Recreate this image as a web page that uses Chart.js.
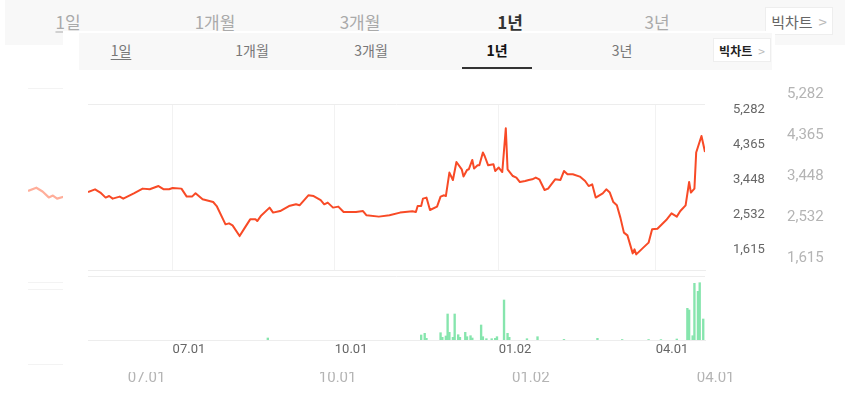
<!DOCTYPE html>
<html>
<head>
<meta charset="utf-8">
<script src="https://cdn.jsdelivr.net/npm/chart.js@4.4.1/dist/chart.umd.min.js"></script>
<style>
html, body { margin: 0; padding: 0; width: 850px; height: 407px; overflow: hidden; background: #fff; }
body { font-family: "Noto Sans CJK KR", "Noto Sans", sans-serif; }
.layer { position: absolute; left: 0; top: 0; width: 850px; height: 407px; }
.layer canvas { position: absolute; left: 0; top: 0; }
.box { position: absolute; }
.tab { position: absolute; transform: translate(-50%, -50%); white-space: nowrap; line-height: 1; }
.big { position: absolute; background: #fff; border: 1px solid #eee; box-sizing: border-box;
       display: flex; align-items: center; justify-content: center; white-space: nowrap; }
.big span { margin-left: 6px; color: #bbb; font-weight: 400; }
</style>
</head>
<body>
<div id="back" class="layer"></div>
<div class="box" style="left:63px;top:31px;width:712px;height:341px;background:#fff"></div>
<div id="front" class="layer"></div>

<script>
// period tabs
const tabLabels = ['1일', '1개월', '3개월', '1년', '3년'];
const bigChartLabel = '빅차트';
const activeTab = 3;

// price line: day index (0 = first day of the period) and closing price
const priceDays = [0, 4, 7, 10, 12, 14, 18, 20, 26, 31, 35, 40, 43, 46, 48, 53, 56, 59, 61, 65,
  71, 73, 78, 80, 82, 86, 89, 92, 95, 96, 98, 103, 105, 109, 114, 118, 120, 125, 128, 132,
  134, 136, 139, 142, 145, 152, 156, 158, 165, 171, 177, 184, 186, 187, 189, 190, 192, 194, 198, 200,
  202, 203, 205, 207, 209, 212, 213, 215, 216, 218, 219, 221, 222, 224, 225, 227, 230, 231, 233, 235,
  237, 238, 241, 243, 245, 248, 250, 252, 254, 256, 259, 261, 265, 268, 270, 272, 275, 279, 282, 284,
  286, 288, 292, 294, 296, 298, 300, 302, 304, 306, 309, 310, 311, 315, 318, 320, 323, 328, 331, 334,
  336, 339, 341, 342, 344, 345, 348, 350];
const prices = [3116, 3187, 3101, 2970, 3011, 2943, 2996, 2943, 3082, 3205, 3187, 3273, 3187, 3187, 3221, 3205, 2996, 2996, 3082, 2925,
  2854, 2749, 2270, 2296, 2244, 1963, 2184, 2401, 2401, 2356, 2487, 2708, 2577, 2618, 2749, 2794, 2768, 3030, 3011, 2907,
  2794, 2839, 2708, 2734, 2592, 2592, 2618, 2506, 2472, 2506, 2577, 2611, 2592, 2749, 2749, 2943, 2970, 2645, 2734, 2996,
  3030, 3011, 3625, 3431, 3902, 3711, 3520, 3693, 3711, 3955, 3729, 3816, 3816, 4149, 4059, 3816, 3842, 3666, 3756, 3640,
  4785, 3711, 3535, 3494, 3378, 3404, 3431, 3449, 3494, 3449, 3169, 3205, 3449, 3431, 3666, 3580, 3580, 3520, 3404, 3273,
  3318, 2970, 3082, 3187, 3101, 2854, 2768, 2446, 2053, 1982, 1510, 1615, 1484, 1660, 1791, 2139, 2157, 2383, 2558, 2472,
  2618, 2768, 3378, 3101, 3205, 4149, 4583, 4164];

// trading volume (thousand shares)
const volumeDays = [102, 189, 191, 192, 200, 201, 203, 204, 205, 207, 208, 210, 211, 214, 215, 217, 218, 223, 224, 226,
  229, 231, 232, 236, 238, 239, 249, 255, 270, 289, 303, 318, 325, 334, 340, 341, 343, 344, 346, 347, 349];
const volumes = [200, 500, 670, 170, 730, 270, 400, 2600, 770, 270, 2600, 530, 270, 770, 330, 430, 200, 1500, 330, 130,
  130, 170, 330, 4000, 670, 270, 130, 330, 60, 170, 50, 50, 40, 100, 3170, 3000, 430, 5670, 4870, 5730, 2100];

// axis ticks
const priceTicks = [1615, 2532, 3448, 4365, 5282];
const dateTickDays = [48, 140, 233, 322];
const dateTickLabels = ['07.01', '10.01', '01.02', '04.01'];

const lastDay = 350;
const priceMin = 1075, priceMax = 5420;
const volumeMax = 6400;

// two copies of the widget: a wide faded one behind, a normal one in front
const layouts = {
  back: {
    strip: [5, 0, 840, 45], tabX: [68, 215, 360, 510, 657], tabY: 21, tabSize: 17,
    tabColor: '#aaa', activeColor: '#333', underline: null,
    big: [765, 7, 68, 28], bigSize: 15, bigColor: '#666', bigWeight: 400,
    left: 28, right: 755, priceTop: 88, priceBottom: 282, volTop: 289, volBottom: 364,
    axisW: 90, labelPad: 32, fs: 15, xPad: 5, xAxisH: 24,
    text: '#b4b4b4', grid: '#f6f6f6', frame: '#f3f3f3',
    line: '#ffae9a', lineW: 2.2, bar: '#c9f3d9', barW: 2
  },
  front: {
    strip: [79, 33, 693, 37], tabX: [121, 252, 371, 497, 622], tabY: 50, tabSize: 14,
    tabColor: '#777', activeColor: '#111', underline: [462, 67, 70, 2],
    big: [713, 38, 58, 24], bigSize: 12, bigColor: '#222', bigWeight: 700,
    left: 88, right: 705, priceTop: 104, priceBottom: 270, volTop: 276, volBottom: 340,
    axisW: 70, labelPad: 28, fs: 13, xPad: 2, xAxisH: 20,
    text: '#666', grid: '#f2f2f2', frame: '#ededed',
    line: '#f84a26', lineW: 2, bar: '#86e5ad', barW: 1.7
  }
};

function addDiv(parent, css, text) {
  const d = document.createElement('div');
  d.style.cssText = css;
  if (text !== undefined) d.textContent = text;
  parent.appendChild(d);
  return d;
}

function buildTabs(layer, L) {
  const [sx, sy, sw, sh] = L.strip;
  addDiv(layer, `position:absolute;left:${sx}px;top:${sy}px;width:${sw}px;height:${sh}px;background:#f8f8f8`);
  tabLabels.forEach((t, i) => {
    const on = i === activeTab;
    const el = addDiv(layer, `left:${L.tabX[i]}px;top:${L.tabY}px;font-size:${L.tabSize}px;` +
      `color:${on ? L.activeColor : L.tabColor};font-weight:${on ? 700 : 400};` +
      (i === 0 ? 'text-decoration:underline;text-underline-offset:3px;' : ''), t);
    el.className = 'tab';
  });
  if (L.underline) {
    const [ux, uy, uw, uh] = L.underline;
    addDiv(layer, `position:absolute;left:${ux}px;top:${uy}px;width:${uw}px;height:${uh}px;background:#333`);
  }
  const [bx, by, bw, bh] = L.big;
  const b = addDiv(layer, `left:${bx}px;top:${by}px;width:${bw}px;height:${bh}px;font-size:${L.bigSize}px;` +
    `color:${L.bigColor};font-weight:${L.bigWeight}`, bigChartLabel);
  b.className = 'big';
  const arrow = document.createElement('span');
  arrow.textContent = '>';
  b.appendChild(arrow);
}

function makeCanvas(layer) {
  const c = document.createElement('canvas');
  c.width = 850; c.height = 407;
  c.style.width = '850px'; c.style.height = '407px';
  layer.appendChild(c);
  return c;
}

const baseOptions = {
  responsive: false,
  animation: false,
  events: [],
  plugins: { legend: { display: false }, tooltip: { enabled: false } },
};

function priceChart(canvas, L) {
  return new Chart(canvas, {
    type: 'line',
    data: {
      datasets: [{
        data: priceDays.map((d, i) => ({ x: d, y: prices[i] })),
        borderColor: L.line,
        borderWidth: L.lineW,
        pointRadius: 0,
        tension: 0,
        borderJoinStyle: 'round'
      }]
    },
    options: {
      ...baseOptions,
      layout: { padding: { left: L.left, top: L.priceTop, right: 850 - L.right - L.axisW, bottom: 407 - L.priceBottom } },
      scales: {
        x: {
          type: 'linear', min: 0, max: lastDay,
          afterBuildTicks: s => { s.ticks = dateTickDays.map(v => ({ value: v })); },
          afterFit: s => { s.height = 0; },
          ticks: { display: false },
          grid: { color: L.grid, drawTicks: false },
          border: { display: true, color: L.frame }
        },
        y: {
          position: 'right', min: priceMin, max: priceMax,
          afterBuildTicks: s => { s.ticks = priceTicks.concat([priceMax]).map(v => ({ value: v })); },
          afterFit: s => { s.width = L.axisW; },
          ticks: {
            padding: L.labelPad, color: L.text,
            font: { family: 'Roboto', size: L.fs },
            callback: v => v === priceMax ? '' : v.toLocaleString('en-US')
          },
          grid: { drawTicks: false, color: c => (c.tick && c.tick.value === priceMax) ? L.frame : 'rgba(0,0,0,0)' },
          border: { display: false }
        }
      }
    }
  });
}

function volumeChart(canvas, L) {
  return new Chart(canvas, {
    type: 'bar',
    data: {
      datasets: [{
        data: volumeDays.map((d, i) => ({ x: d, y: volumes[i] })),
        backgroundColor: L.bar,
        barThickness: L.barW,
        borderWidth: 0
      }]
    },
    options: {
      ...baseOptions,
      layout: { padding: { left: L.left, top: L.volTop, right: 850 - L.right - L.axisW, bottom: 407 - L.volBottom - L.xAxisH } },
      scales: {
        x: {
          type: 'linear', min: 0, max: lastDay, offset: false,
          afterBuildTicks: s => { s.ticks = dateTickDays.map(v => ({ value: v })); },
          afterFit: s => { s.height = L.xAxisH; },
          ticks: {
            align: 'start', autoSkip: false, maxRotation: 0, padding: L.xPad,
            color: L.text, font: { family: 'Roboto', size: L.fs },
            callback: v => dateTickLabels[dateTickDays.indexOf(v)]
          },
          grid: { display: false, drawTicks: false },
          border: { display: true, color: L.frame }
        },
        y: {
          position: 'right', min: 0, max: volumeMax,
          afterBuildTicks: s => { s.ticks = [{ value: volumeMax }]; },
          afterFit: s => { s.width = L.axisW; },
          ticks: { display: false },
          grid: { drawTicks: false, color: L.frame },
          border: { display: false }
        }
      }
    }
  });
}

['back', 'front'].forEach(id => {
  const layer = document.getElementById(id);
  const L = layouts[id];
  buildTabs(layer, L);
  priceChart(makeCanvas(layer), L);
  volumeChart(makeCanvas(layer), L);
});
</script>
</body>
</html>
